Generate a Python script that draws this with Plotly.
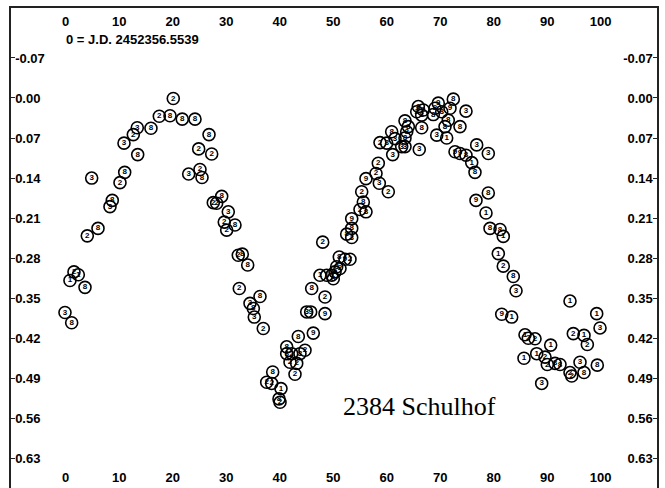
import plotly.graph_objects as go

# Rotational phase (percent of period) and relative magnitude of each observation,
# with the session number printed inside each point.
phase = [
    -0.13, 1.12, 0.80, 1.55, 2.36, 3.61, 4.04, 6.04, 4.86, 8.28,
    8.71, 10.15, 11.03, 10.90, 12.64, 13.38, 13.46, 15.94, 17.50, 19.50,
    20.11, 21.79, 24.17, 26.79, 24.86, 27.29, 22.99, 25.10, 25.48, 29.16,
    27.59, 28.22, 30.39, 29.64, 31.64, 30.09, 32.26, 33.01, 34.02, 32.45,
    36.32, 34.45, 35.07, 35.25, 36.93, 38.69, 37.57, 38.50, 40.24, 39.87,
    40.06, 41.31, 41.31, 42.24, 41.93, 43.18, 42.86, 43.79, 44.73, 43.48,
    46.28, 45.05, 45.79, 48.47, 45.98, 48.47, 47.53, 48.79, 49.72, 50.02,
    50.34, 50.65, 51.27, 51.14, 52.21, 53.14, 48.04, 52.52, 53.46, 53.46,
    53.46, 55.01, 56.13, 55.63, 55.33, 56.13, 58.00, 58.62, 60.30, 58.43,
    58.75, 60.00, 61.12, 60.93, 61.55, 63.42, 62.80, 63.42, 66.09, 63.42,
    64.04, 63.74, 66.54, 65.91, 66.84, 65.61, 66.54, 69.64, 69.03, 70.28,
    68.71, 72.45, 71.83, 74.82, 71.51, 70.90, 73.70, 69.35, 71.21, 72.77,
    73.70, 74.82, 76.82, 78.99, 75.89, 76.50, 78.99, 76.69, 78.56, 79.31,
    81.18, 81.79, 80.86, 81.79, 83.66, 84.17, 81.50, 83.36, 85.85, 86.47,
    87.72, 90.65, 85.66, 88.04, 89.59, 90.02, 91.46, 92.39, 88.97, 94.26,
    94.88, 96.88, 97.50, 99.25, 99.87, 96.13, 99.36, 94.26, 94.58, 96.88,
]
delta_mag = [
    0.375, 0.393, 0.319, 0.304, 0.309, 0.331, 0.241, 0.228, 0.140, 0.190,
    0.179, 0.148, 0.130, 0.079, 0.064, 0.052, 0.099, 0.053, 0.032, 0.031,
    0.001, 0.037, 0.037, 0.064, 0.089, 0.098, 0.133, 0.125, 0.139, 0.172,
    0.183, 0.184, 0.199, 0.217, 0.222, 0.231, 0.275, 0.273, 0.292, 0.333,
    0.347, 0.359, 0.368, 0.383, 0.403, 0.479, 0.497, 0.499, 0.508, 0.526,
    0.532, 0.435, 0.447, 0.447, 0.462, 0.464, 0.483, 0.447, 0.441, 0.417,
    0.411, 0.374, 0.374, 0.377, 0.333, 0.348, 0.310, 0.310, 0.310, 0.316,
    0.304, 0.295, 0.298, 0.278, 0.282, 0.282, 0.252, 0.238, 0.244, 0.228,
    0.211, 0.195, 0.199, 0.182, 0.164, 0.141, 0.132, 0.149, 0.164, 0.114,
    0.078, 0.079, 0.099, 0.059, 0.071, 0.070, 0.085, 0.085, 0.090, 0.040,
    0.050, 0.059, 0.052, 0.015, 0.021, 0.024, 0.030, 0.009, 0.018, 0.024,
    0.029, 0.002, 0.018, 0.023, 0.039, 0.050, 0.050, 0.065, 0.070, 0.094,
    0.097, 0.100, 0.082, 0.097, 0.113, 0.130, 0.166, 0.179, 0.201, 0.228,
    0.230, 0.242, 0.272, 0.294, 0.312, 0.337, 0.378, 0.383, 0.414, 0.420,
    0.421, 0.432, 0.455, 0.447, 0.453, 0.466, 0.464, 0.466, 0.499, 0.355,
    0.412, 0.415, 0.431, 0.377, 0.402, 0.462, 0.467, 0.480, 0.486, 0.480,
]
session = [
    3, 8, 1, 2, 1, 8, 2, 8, 3, 3,
    8, 2, 8, 3, 2, 3, 8, 8, 2, 8,
    2, 8, 8, 8, 2, 2, 3, 2, 8, 8,
    2, 2, 3, 2, 8, 2, 2, 8, 8, 2,
    8, 3, 8, 3, 2, 8, 2, 2, 1, 8,
    2, 8, 8, 2, 2, 2, 2, 8, 2, 8,
    9, 3, 9, 9, 8, 2, 1, 1, 9, 8,
    2, 8, 2, 8, 9, 2, 2, 8, 3, 8,
    9, 2, 8, 8, 2, 9, 2, 3, 2, 2,
    2, 8, 3, 8, 3, 8, 3, 3, 3, 8,
    8, 8, 8, 8, 2, 2, 8, 9, 2, 8,
    8, 8, 9, 3, 8, 8, 8, 3, 1, 9,
    9, 8, 3, 3, 1, 8, 8, 9, 1, 8,
    8, 1, 1, 2, 8, 3, 9, 1, 1, 2,
    2, 1, 1, 1, 2, 2, 8, 8, 3, 1,
    2, 1, 2, 1, 3, 3, 8, 2, 2, 8,
]

x_ticks = [0, 10, 20, 30, 40, 50, 60, 70, 80, 90, 100]
y_ticks = [-0.07, 0.00, 0.07, 0.14, 0.21, 0.28, 0.35, 0.42, 0.49, 0.56, 0.63]
y_tick_text = ["-0.07", "0.00", "0.07", "0.14", "0.21", "0.28",
               "0.35", "0.42", "0.49", "0.56", "0.63"]

x_range = [-10.22, 110.52]
y_range = [0.6818, -0.1573]   # magnitudes grow downward

tick_font = dict(family="Liberation Sans, Arial", size=13, color="black", weight="bold")

fig = go.Figure()
fig.add_trace(go.Scatter(
    x=phase, y=delta_mag,
    mode="markers+text",
    text=[str(s) for s in session],
    textposition="middle center",
    textfont=dict(family="Liberation Sans, Arial", size=8, color="black",
                  weight="bold"),
    marker=dict(symbol="circle-open", size=12, color="black",
                line=dict(width=1.6, color="black")),
    cliponaxis=False,
    showlegend=False,
))

# Invisible trace carrying the top and right axes
fig.add_trace(go.Scatter(x=[None], y=[None], xaxis="x2", yaxis="y2",
                         showlegend=False, hoverinfo="skip"))

axis_common = dict(showgrid=False, zeroline=False, tickfont=tick_font)

fig.update_layout(
    width=665, height=488,
    margin=dict(l=11, r=8, t=8, b=0),
    paper_bgcolor="white", plot_bgcolor="white",
    xaxis=dict(range=x_range, tickvals=x_ticks, ticks="", showline=False,
               ticklabelposition="inside", **axis_common),
    xaxis2=dict(range=x_range, tickvals=x_ticks, ticks="", overlaying="x",
                side="top", showline=True, linecolor="#222", linewidth=1.5,
                ticklabelposition="inside", ticklabelstandoff=9, **axis_common),
    yaxis=dict(range=y_range, tickvals=y_ticks, ticktext=y_tick_text,
               ticks="inside", ticklen=4, tickwidth=1.2, tickcolor="#222",
               showline=True, linecolor="#222", linewidth=1.5,
               ticklabelposition="inside", **axis_common),
    yaxis2=dict(range=y_range, tickvals=y_ticks, ticktext=y_tick_text,
                overlaying="y", side="right",
                ticks="inside", ticklen=4, tickwidth=1.2, tickcolor="#222",
                showline=True, linecolor="#222", linewidth=1.5,
                ticklabelposition="inside", **axis_common),
    annotations=[
        dict(x=-0.3, y=-0.1026, xref="x", yref="y", text="0 = J.D. 2452356.5539",
             showarrow=False, xanchor="left", yanchor="middle",
             font=dict(family="Liberation Sans, Arial", size=13, color="black",
                       weight="bold")),
        dict(x=66.1, y=0.540, xref="x", yref="y", text="2384 Schulhof",
             showarrow=False, xanchor="center", yanchor="middle",
             font=dict(family="Liberation Serif, Times New Roman", size=26,
                       color="black")),
    ],
)

fig.write_html("out.html")
